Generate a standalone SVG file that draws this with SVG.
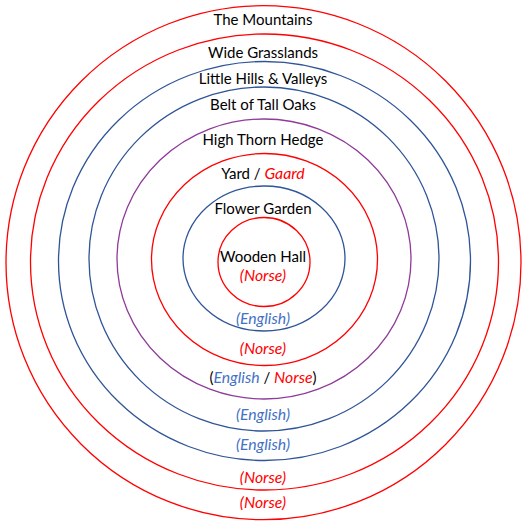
<svg xmlns="http://www.w3.org/2000/svg" width="525" height="525" viewBox="0 0 525 525">
<style>
.c{fill:none;stroke-width:1.3}
.r{stroke:#FF0000}
.b{stroke:#2F5597}
.p{stroke:#8E3B99}
text{font-family:Lato,"Noto Sans","DejaVu Sans",sans-serif;font-size:15px;text-anchor:middle;fill:#000}
.en{fill:#4472C4;font-style:italic;font-size:15.8px}
.no{fill:#FF0000;font-style:italic;font-size:15.8px}
</style>
<rect width="525" height="525" fill="#fff"/>
<g id="mountains"><ellipse class="c r" cx="263.5" cy="262.7" rx="257.5" ry="257"/><text x="263" y="25">The Mountains</text><text x="263" y="507.5" class="no">(Norse)</text></g>
<g id="grasslands"><ellipse class="c r" cx="264.5" cy="262" rx="234" ry="228"/><text x="263" y="57.5">Wide Grasslands</text><text x="263" y="482.5" class="no">(Norse)</text></g>
<g id="hills"><ellipse class="c b" cx="264.5" cy="261" rx="206" ry="199.5"/><text x="263" y="83.5">Little Hills &amp; Valleys</text><text x="263" y="449.5" class="en">(English)</text></g>
<g id="oaks"><ellipse class="c b" cx="264" cy="259" rx="175" ry="172"/><text x="263" y="110">Belt of Tall Oaks</text><text x="263" y="419.5" class="en">(English)</text></g>
<g id="hedge"><ellipse class="c p" cx="264" cy="259" rx="147" ry="140"/><text x="263" y="145">High Thorn Hedge</text><text x="263" y="383">(<tspan class="en">English</tspan> / <tspan class="no">Norse</tspan>)</text></g>
<g id="yard"><ellipse class="c r" cx="264.5" cy="259.5" rx="113" ry="106"/><text x="263" y="178.5">Yard / <tspan class="no">Gaard</tspan></text><text x="263" y="354" class="no">(Norse)</text></g>
<g id="garden"><ellipse class="c b" cx="264" cy="258.5" rx="81" ry="72.5"/><text x="263" y="213.5">Flower Garden</text><text x="263" y="323.5" class="en">(English)</text></g>
<g id="hall"><ellipse class="c r" cx="264" cy="262" rx="46" ry="44.5"/><text x="263" y="262">Wooden Hall</text><text x="263" y="281" class="no">(Norse)</text></g>
<g id="connectors"/>
</svg>
